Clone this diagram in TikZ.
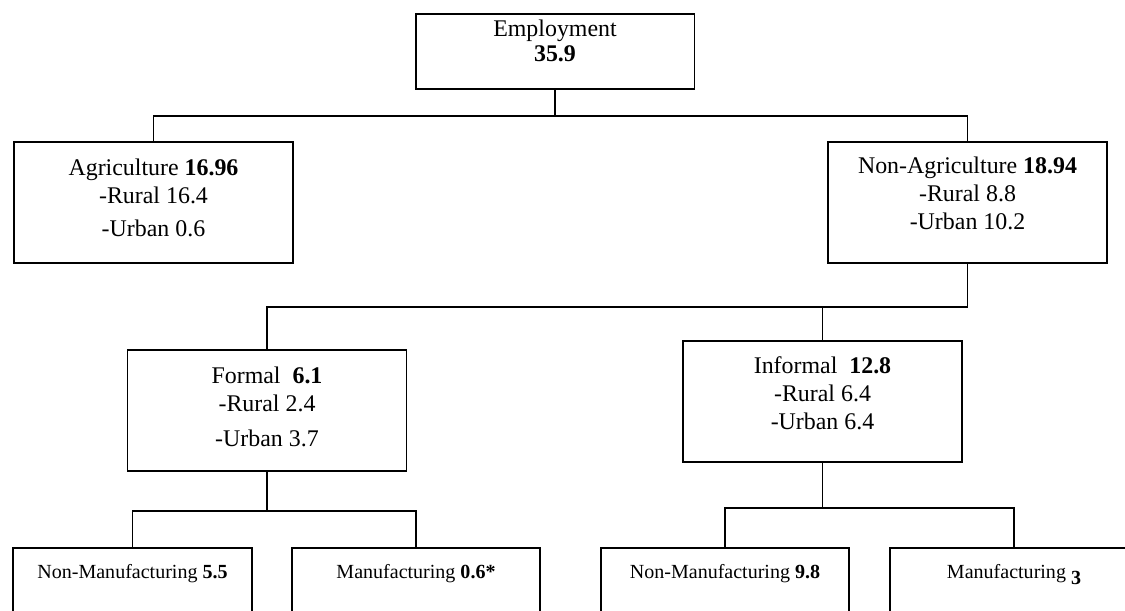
\documentclass[tikz,border=0pt]{standalone}
\usepackage{fontspec}
\setmainfont{Liberation Serif}
\newcommand{\boxlines}[2]{\raisebox{#1}[0pt][0pt]{\begin{tabular}{@{}c@{}}#2\end{tabular}}}

\begin{document}
\begin{tikzpicture}[x=0.02cm,y=-0.02cm,
  box/.style={draw,line width=1.1pt,inner sep=0pt,minimum width=5.58cm,minimum height=2.42cm,font=\fontsize{13.6}{15.9}\selectfont},
  leaf/.style={box,minimum width=4.96cm,minimum height=2cm,font=\fontsize{11.4}{13.5}\selectfont},
  link/.style={line width=0.75pt}]
\clip (0,0) rectangle (1125,610);
\node[box,minimum height=1.5cm] (emp) at (555,51.5) {\boxlines{0.8pt}{Employment\\[-1.7pt] \textbf{35.9}}};
\node[box] (agri) at (153.5,202.5) {\boxlines{-2.2pt}{Agriculture \textbf{16.96}\\ -Rural 16.4\\[2.8pt] -Urban 0.6}};
\node[box] (nonagri) at (967.5,202.5) {\boxlines{0pt}{Non-Agriculture \textbf{18.94}\\ -Rural 8.8\\ -Urban 10.2}};
\node[box] (formal) at (267,410.5) {\boxlines{-3pt}{Formal\ \ \textbf{6.1}\\ -Rural 2.4\\[4pt] -Urban 3.7}};
\node[box] (informal) at (822.5,401.5) {\boxlines{-0.6pt}{Informal\ \ \textbf{12.8}\\ -Rural 6.4\\ -Urban 6.4}};
\node[leaf,minimum width=4.78cm] (fnonman) at (132.5,598) {\boxlines{10.8pt}{Non-Manufacturing \textbf{5.5}}};
\node[leaf] (fman) at (416,598) {\boxlines{10.8pt}{Manufacturing \textbf{0.6*}}};
\node[leaf] (inonman) at (725,598) {\boxlines{10.8pt}{Non-Manufacturing \textbf{9.8}}};
\node[leaf] (iman) at (1014,598) {\boxlines{10.8pt}{Manufacturing \raisebox{-3pt}{\textbf{3}}}};
% tree links
\draw[link] (emp.south) -- ++(0,26) -| (agri.north);
\draw[link] (emp.south) -- ++(0,26) -| (nonagri.north);
\draw[link] (nonagri.south) -- ++(0,43) -| (formal.north);
\draw[link] (nonagri.south) -- ++(0,43) -| (informal.north);
\draw[link] (formal.south) -- ++(0,39) -| (fnonman.north);
\draw[link] (formal.south) -- ++(0,39) -| (fman.north);
\draw[link] (informal.south) -- ++(0,45) -| (inonman.north);
\draw[link] (informal.south) -- ++(0,45) -| (iman.north);
\end{tikzpicture}
\end{document}
